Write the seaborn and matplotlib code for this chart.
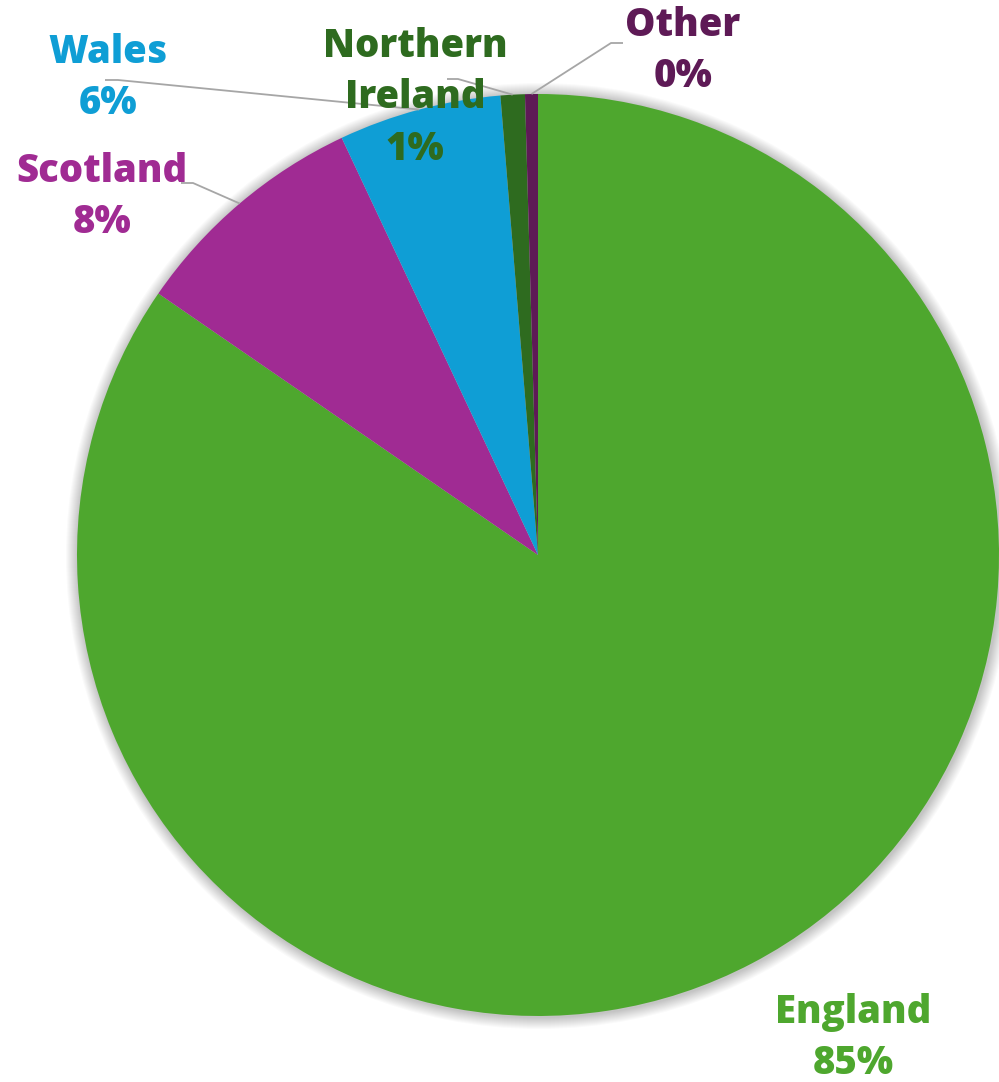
import numpy as np
import matplotlib
matplotlib.use("Agg")
import matplotlib.pyplot as plt
from matplotlib.patches import Circle
import seaborn as sns

# Share of respondents by nation
nations = ["England", "Scotland", "Wales", "Northern\nIreland", "Other"]
shares = [84.6, 8.4, 5.7, 0.85, 0.45]
colors = ["#4EA72E", "#A02B93", "#0F9ED5", "#2E6B1F", "#5E1A56"]

W, H = 999, 1082
sns.set_theme(style="white")
plt.rcParams["font.family"] = ["Open Sans", "DejaVu Sans"]

fig = plt.figure(figsize=(W / 100, H / 100), dpi=100)
ax = fig.add_axes([0, 0, 1, 1])
ax.set_xlim(0, W)
ax.set_ylim(0, H)
ax.set_aspect("equal")
ax.axis("off")

cx, cy, r = 538, H - 555, 461

# soft drop shadow around the pie
for i in range(12, 0, -1):
    ax.add_patch(Circle((cx + 1, cy - 1), r + i, color="#000000", alpha=0.02, lw=0, zorder=0))

wedges, _ = ax.pie(shares, colors=colors, startangle=90, counterclock=False,
                   center=(cx, cy), radius=r, frame=True,
                   wedgeprops=dict(linewidth=0, zorder=1))
ax.set_xlim(0, W)
ax.set_ylim(0, H)
ax.axis("off")

# label block centre (px), and elbow of the leader line (None = no leader)
label_pos = [(853, 1038), (102, 197), (108, 78), (415, 98), (683, 51)]
elbows = [None,
          [(193, 183), (181, 183)],
          [(118, 80), (105, 80)],
          [(458, 79), (447, 79)],
          [(611, 43), (623, 43)]]

for w, name, val, col, (lx, ly), elb in zip(wedges, nations, shares, colors, label_pos, elbows):
    if elb is not None:
        mid = np.deg2rad((w.theta1 + w.theta2) / 2)
        ex, ey = cx + r * np.cos(mid), cy + r * np.sin(mid)
        xs = [ex] + [p[0] for p in elb]
        ys = [ey] + [H - p[1] for p in elb]
        ax.plot(xs, ys, color="#A6A6A6", lw=1.3, zorder=2, solid_capstyle="butt")
    ax.text(lx, H - ly, f"{name}\n{val:.0f}%", ha="center", va="center",
            color=col, fontsize=27.5, fontweight="heavy", linespacing=1.42, zorder=3)

fig.savefig("out.png", dpi=100, facecolor="white")
